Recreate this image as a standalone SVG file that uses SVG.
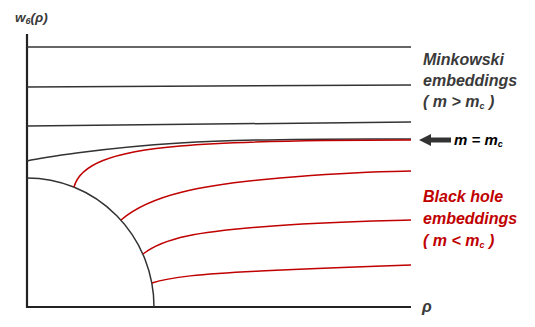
<svg xmlns="http://www.w3.org/2000/svg" width="535" height="327" viewBox="0 0 535 327">
<style>
.ax{fill:none;stroke:#222;stroke-width:2.2}
.dk{fill:none;stroke:#333;stroke-width:1.5}
.rd{fill:none;stroke:#c00000;stroke-width:1.5}
.t{font-family:"Liberation Sans",Arial,sans-serif;font-weight:bold;font-style:italic;font-size:16px}
.g{fill:#3a3a3a}
.r{fill:#c00000}
.s{font-size:9px}
</style>
<rect width="535" height="327" fill="#fff"/>
<g id="axes">
<path class="ax" d="M27,34 V307 H411"/>
<text class="t g" x="15" y="22" style="font-size:13.5px">w<tspan class="s" dy="2">6</tspan><tspan dy="-2">(ρ)</tspan></text>
<text class="t g" x="422" y="312">ρ</text>
</g>
<g id="horizon">
<path class="dk" d="M27,178 A127,129 0 0 1 154,307"/>
</g>
<g id="connectors">
<path class="dk" d="M27,47 H411"/>
<path class="dk" d="M27,87 L411,85"/>
<path class="dk" d="M27,126 L411,122"/>
<path class="dk" d="M27,161 C40,158 100,148 180,143 S360,139 411,139"/>
<path class="rd" d="M74,187 C80,165 110,152 180,146 S350,140 411,140"/>
<path class="rd" d="M121,220 C150,195 200,185 280,178 S380,172 411,171"/>
<path class="rd" d="M143,254 C165,237 200,232 260,227 S380,221 411,220"/>
<path class="rd" d="M152,283 C170,277 200,274 260,271 S380,266 411,265"/>
</g>
<g id="minkowski">
<text class="t g" x="423" y="65">Minkowski</text>
<text class="t g" x="423" y="86">embeddings</text>
<text class="t g" x="423" y="107">( m &gt; m<tspan class="s" dy="2">c</tspan><tspan dy="-2"> )</tspan></text>
</g>
<g id="critical">
<path d="M419,140 L431,134 V137.5 H451 V142.5 H431 V146 Z" fill="#333"/>
<text class="t" x="454" y="145" fill="#000" style="font-size:15px">m = m<tspan class="s" dy="2">c</tspan></text>
</g>
<g id="blackhole">
<text class="t r" x="423" y="202">Black hole</text>
<text class="t r" x="423" y="224">embeddings</text>
<text class="t r" x="423" y="246">( m &lt; m<tspan class="s" dy="2">c</tspan><tspan dy="-2"> )</tspan></text>
</g>
</svg>
